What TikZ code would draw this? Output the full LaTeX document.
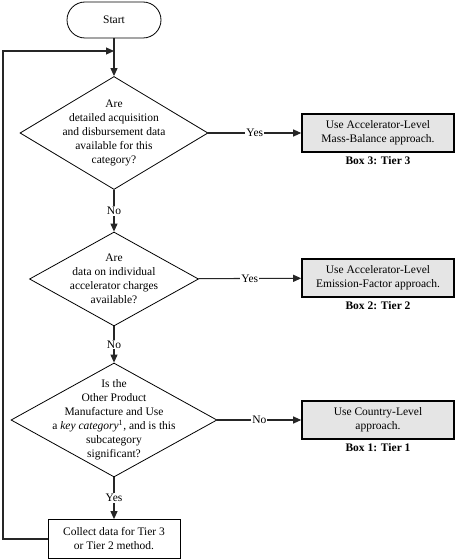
\documentclass[tikz,border=0pt]{standalone}
\usepackage{fontspec}
\setmainfont{Liberation Serif}
\usetikzlibrary{arrows.meta,shapes.geometric,positioning}

\tikzset{
  line/.style={line width=1.1pt, draw=black!85},
  arr/.style={line, -{Triangle[length=8pt,width=7pt]}},
  startbox/.style={draw, line width=0.8pt, rounded corners=18pt, minimum width=94pt, minimum height=36pt},
  decision/.style={diamond, draw, line width=0.8pt, inner sep=0pt},
  tierbox/.style={draw, line width=1.6pt, fill=black!10, minimum width=152pt, minimum height=38pt, align=center, inner sep=1pt},
  databox/.style={draw, line width=0.8pt, fill=white, minimum width=132pt, minimum height=39pt, align=center, inner sep=1pt},
  lbl/.style={fill=white, inner sep=1pt},
  boxname/.style={font=\fontsize{11.5}{14}\bfseries}
}

\begin{document}
\begin{tikzpicture}[x=1pt,y=-1pt,font=\fontsize{11.5}{14}\selectfont]
\useasboundingbox (0,0) rectangle (455,559);

% main column
\node[startbox] (start) at (114,20) {Start};
\node[decision, minimum width=188pt, minimum height=113pt] (dec1) at (114,133) {};
\node[align=center] at (dec1) {Are\\detailed acquisition\\and disbursement data\\available for this\\category?};
\node[decision, minimum width=169pt, minimum height=94pt] (dec2) at (114,279) {};
\node[align=center] at (dec2) {Are\\data on individual\\accelerator charges\\available?};
\node[decision, minimum width=206pt, minimum height=114pt] (dec3) at (114,420) {};
\node[align=center] at (dec3) {Is the\\Other Product\\Manufacture and Use\\a \textit{key category}\textsuperscript{1}, and is this\\subcategory\\significant?};
\node[databox] (collect) at (114,539) {Collect data for Tier 3\\or Tier 2 method.};

% tier boxes
\node[tierbox] (tier3) at (378,133) {Use Accelerator-Level\\Mass-Balance approach.};
\node[boxname, below=0pt of tier3] {Box 3: Tier 3};
\node[tierbox] (tier2) at (378,278) {Use Accelerator-Level\\Emission-Factor approach.};
\node[boxname, below=0pt of tier2] {Box 2: Tier 2};
\node[tierbox] (tier1) at (378,420) {Use Country-Level\\approach.};
\node[boxname, below=0pt of tier1] {Box 1: Tier 1};

% connectors
\coordinate (loopin) at (114,51);
\coordinate (loopa) at (3,539);
\coordinate (loopb) at (3,51);
\draw[arr] (start) -- (dec1);
\draw[arr] (dec1) -- node[lbl] {No} (dec2);
\draw[arr] (dec2) -- node[lbl] {No} (dec3);
\draw[arr] (dec3) -- node[lbl] {Yes} (collect);
\draw[arr] (dec1) -- node[lbl] {Yes} (tier3);
\draw[arr] (dec2) -- node[lbl] {Yes} (tier2);
\draw[arr] (dec3) -- node[lbl] {No} (tier1);
\draw[arr] (collect.west) -- (loopa) -- (loopb) -- (loopin);
\end{tikzpicture}
\end{document}
